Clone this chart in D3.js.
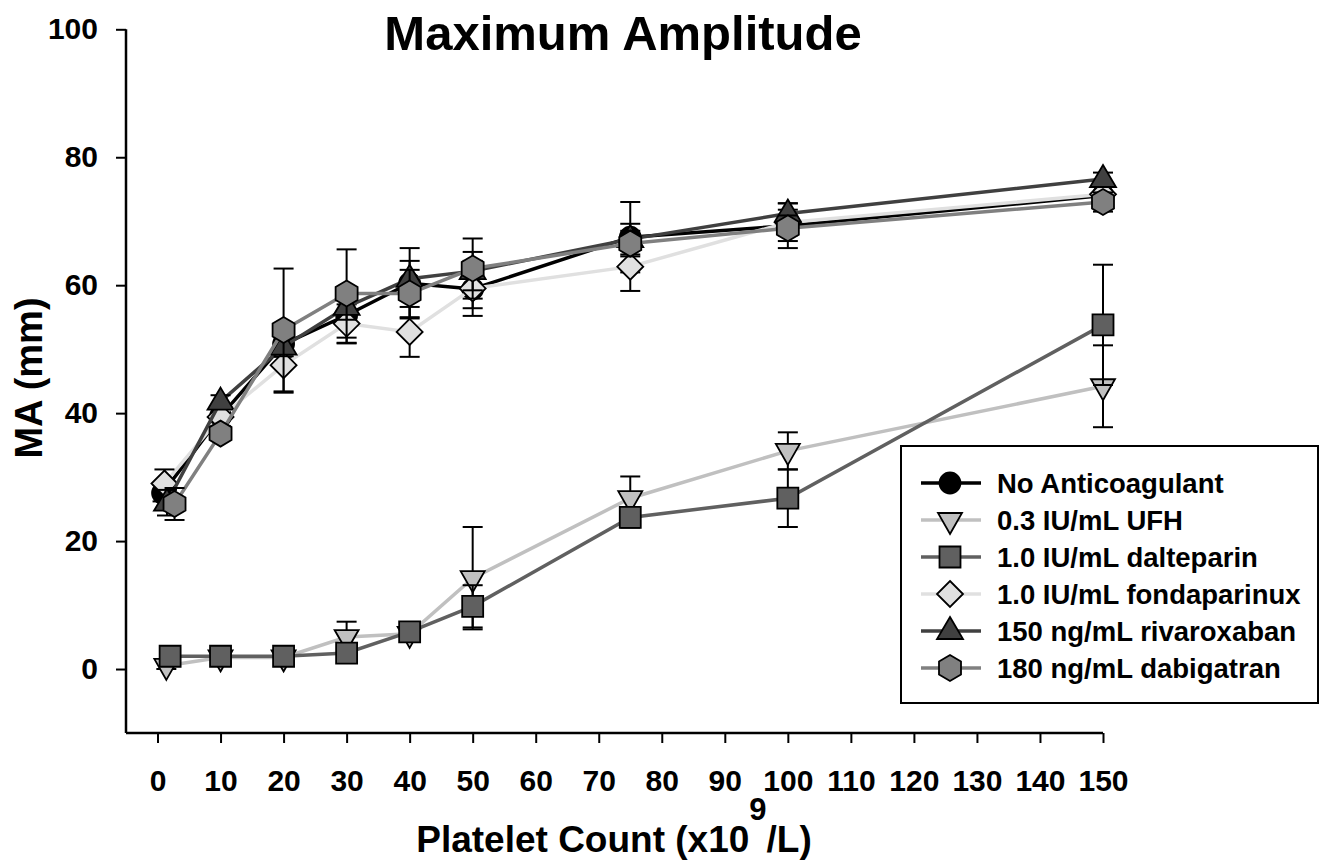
<!DOCTYPE html>
<html>
<head>
<meta charset="utf-8">
<script src="https://cdn.jsdelivr.net/npm/d3@7"></script>
<style>
  body { margin: 0; background: #fff; }
  text { font-family: "Liberation Sans", Arial, sans-serif; font-weight: bold; fill: #000; }
</style>
</head>
<body>
<svg id="chart" width="1328" height="861"></svg>
<script>
// platelet count (x10^9/L) and MA (mm) +/- SD for each condition
var seriesNames = ['No Anticoagulant', '0.3 IU/mL UFH', '1.0 IU/mL dalteparin',
                   '1.0 IU/mL fondaparinux', '150 ng/mL rivaroxaban', '180 ng/mL dabigatran'];

var noAntiX = [0.8, 10, 20, 30, 40, 50, 75, 100, 150];
var noAntiY = [27.5, 39.5, 50.8, 55.3, 60.3, 59.4, 67.5, 69.3, 74];
var noAntiErr = [1.3, 1.5, 2, 4.4, 5.5, 3, 5.5, 3.5, 1.5];

var ufhX = [1.4, 10, 20, 30, 40, 50, 75, 100, 150];
var ufhY = [0.5, 1.8, 1.8, 5, 5.5, 14.2, 26.7, 34.1, 44.2];
var ufhErr = [0.5, 0.3, 0.3, 2.4, 0.8, 8, 3.4, 2.9, 6.4];

var daltX = [2, 10, 20, 30, 40, 50, 75, 100, 150];
var daltY = [2, 2, 2, 2.5, 5.8, 9.8, 23.7, 26.7, 53.8];
var daltErr = [0.3, 0.3, 0.3, 0.3, 1, 3.3, 1.6, 4.5, 9.4];

var fondaX = [1.1, 10, 20, 30, 40, 50, 75, 100, 150];
var fondaY = [29, 39.4, 47.5, 54, 52.7, 59.5, 62.9, 69.8, 74.2];
var fondaErr = [2.2, 1.5, 4.3, 3, 3.9, 4.3, 3.8, 2, 1.5];

var rivaX = [1.5, 10, 20, 30, 40, 50, 75, 100, 150];
var rivaY = [26, 41.8, 50.4, 56.6, 61, 62.2, 67.2, 71.2, 76.6];
var rivaErr = [2, 1, 1.5, 2, 2.8, 3, 2.4, 1.6, 1];

var dabiX = [2.7, 10, 20, 30, 40, 50, 75, 100, 150];
var dabiY = [25.8, 36.8, 53, 58.7, 58.7, 62.6, 66.5, 68.9, 73];
var dabiErr = [2.5, 1, 9.6, 6.9, 3.7, 4.7, 2, 2, 1.5];

var xTicks = d3.range(0, 151, 10);
var yTicks = [0, 20, 40, 60, 80, 100];

var styles = [
  {shape: 'circle', color: '#000000'},
  {shape: 'triDown', color: '#c0c0c0'},
  {shape: 'square', color: '#606060'},
  {shape: 'diamond', color: '#e0e0e0'},
  {shape: 'triUp', color: '#404040'},
  {shape: 'hexagon', color: '#808080'}
];

var series = [
  {x: noAntiX, y: noAntiY, err: noAntiErr},
  {x: ufhX, y: ufhY, err: ufhErr},
  {x: daltX, y: daltY, err: daltErr},
  {x: fondaX, y: fondaY, err: fondaErr},
  {x: rivaX, y: rivaY, err: rivaErr},
  {x: dabiX, y: dabiY, err: dabiErr}
].map(function(s, i){
  return {
    name: seriesNames[i],
    style: styles[i],
    points: s.x.map(function(v, j){ return {x: v, y: s.y[j], e: s.err[j]}; })
  };
});

var svg = d3.select('#chart');

var x = d3.scaleLinear().domain([-5, 150]).range([126, 1103]);
var y = d3.scaleLinear().domain([-10, 100]).range([733, 29.3]);

function markerPath(shape){
  switch(shape){
    case 'circle': return 'M-10.5,0A10.5,10.5 0 1,0 10.5,0A10.5,10.5 0 1,0 -10.5,0Z';
    case 'square': return 'M-10.5,-10.5H10.5V10.5H-10.5Z';
    case 'diamond': return 'M0,-13L13,0L0,13L-13,0Z';
    case 'triUp': return 'M0,-14L13,8L-13,8Z';
    case 'triDown': return 'M0,14L12,-7L-12,-7Z';
    case 'hexagon': return 'M0,-13L11,-6.5L11,6.5L0,13L-11,6.5L-11,-6.5Z';
  }
}

// axes
var yAxis = d3.axisLeft(y).tickValues(yTicks).tickSize(10).tickPadding(18).tickSizeOuter(0);
var xAxis = d3.axisBottom(x).tickValues(xTicks).tickSize(10).tickPadding(12).tickSizeOuter(0);

var gy = svg.append('g').attr('transform', 'translate(126,0)').call(yAxis);
var gx = svg.append('g').attr('transform', 'translate(0,733)').call(xAxis);

[gx, gy].forEach(function(g){
  g.select('.domain').attr('stroke', '#000').attr('stroke-width', 2.5);
  g.selectAll('.tick line').attr('stroke', '#000').attr('stroke-width', 2);
  g.selectAll('.tick text').style('font-size', '30px').style('font-family', '"Liberation Sans", Arial, sans-serif')
    .style('font-weight', 'bold').attr('fill', '#000');
});
gx.select('.domain').attr('d', 'M126,0H1103');
gy.select('.domain').attr('d', 'M0,' + y(-10) + 'V' + y(100));
gx.selectAll('.tick text').attr('dy', null).attr('y', 57.7);

// series
var line = d3.line().x(function(d){ return x(d.x); }).y(function(d){ return y(d.y); });

series.forEach(function(s){
  var g = svg.append('g');
  g.append('path')
    .attr('d', line(s.points))
    .attr('fill', 'none')
    .attr('stroke', s.style.color)
    .attr('stroke-width', 3.5);

  var eb = g.selectAll('.eb').data(s.points).enter().append('g');
  eb.append('line')
    .attr('x1', function(d){ return x(d.x); })
    .attr('x2', function(d){ return x(d.x); })
    .attr('y1', function(d){ return y(d.y - d.e); })
    .attr('y2', function(d){ return y(d.y + d.e); })
    .attr('stroke', '#000').attr('stroke-width', 2);
  [-1, 1].forEach(function(sign){
    eb.append('line')
      .attr('x1', function(d){ return x(d.x) - 10; })
      .attr('x2', function(d){ return x(d.x) + 10; })
      .attr('y1', function(d){ return y(d.y + sign * d.e); })
      .attr('y2', function(d){ return y(d.y + sign * d.e); })
      .attr('stroke', '#000').attr('stroke-width', 2);
  });

  g.selectAll('.mk').data(s.points).enter().append('path')
    .attr('d', markerPath(s.style.shape))
    .attr('transform', function(d){ return 'translate(' + x(d.x) + ',' + y(d.y) + ')'; })
    .attr('fill', s.style.color)
    .attr('stroke', '#000')
    .attr('stroke-width', 1.8);
});

// title and axis labels
svg.append('text')
  .attr('x', 623).attr('y', 50)
  .attr('text-anchor', 'middle')
  .style('font-size', '49px')
  .text('Maximum Amplitude');

svg.append('text')
  .attr('transform', 'translate(42,378) rotate(-90)')
  .attr('text-anchor', 'middle')
  .style('font-size', '38px')
  .text('MA (mm)');

var xt = svg.append('text')
  .attr('x', 614).attr('y', 852)
  .attr('text-anchor', 'middle')
  .style('font-size', '37px');
xt.append('tspan').text('Platelet Count (x10');
xt.append('tspan').attr('dy', -32).style('font-size', '31px').text('9');
xt.append('tspan').attr('dy', 32).text('/L)');

// legend
var legend = svg.append('g');
legend.append('rect')
  .attr('x', 901).attr('y', 446).attr('width', 417).attr('height', 257)
  .attr('fill', '#fff').attr('stroke', '#000').attr('stroke-width', 2);

var rows = legend.selectAll('.row').data(series).enter().append('g')
  .attr('transform', function(d, i){ return 'translate(0,' + (483 + i * 37) + ')'; });
rows.append('line')
  .attr('x1', 921).attr('x2', 981).attr('y1', 0).attr('y2', 0)
  .attr('stroke', function(d){ return d.style.color; })
  .attr('stroke-width', 3.5);
rows.append('path')
  .attr('d', function(d){ return markerPath(d.style.shape); })
  .attr('transform', 'translate(950,0)')
  .attr('fill', function(d){ return d.style.color; })
  .attr('stroke', '#000').attr('stroke-width', 1.8);
rows.append('text')
  .attr('x', 997).attr('dy', '0.35em')
  .style('font-size', '27.5px')
  .text(function(d){ return d.name; });
</script>
</body>
</html>
